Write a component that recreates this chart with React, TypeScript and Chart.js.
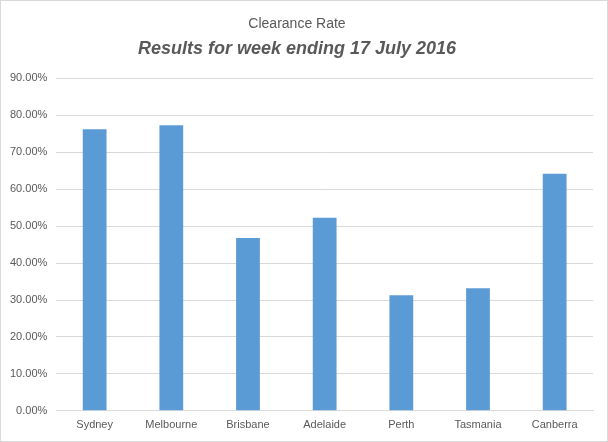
import React, { useEffect, useRef } from "react";
import { Chart, registerables } from "chart.js";

Chart.register(...registerables);

const categories = ["Sydney", "Melbourne", "Brisbane", "Adelaide", "Perth", "Tasmania", "Canberra"];
const clearanceRates = [0.762, 0.773, 0.468, 0.523, 0.313, 0.332, 0.642];
const chartTitle = "Clearance Rate";
const chartSubtitle = "Results for week ending 17 July 2016";

const FONT = "'Liberation Sans', 'DejaVu Sans', sans-serif";

export default function App() {
  const ref = useRef<HTMLCanvasElement | null>(null);
  useEffect(() => {
    document.body.style.margin = "0";
    const ctx = ref.current!;
    const chart = new Chart(ctx, {
      type: "bar",
      data: {
        labels: categories,
        datasets: [
          {
            data: clearanceRates,
            backgroundColor: "#5b9bd5",
            categoryPercentage: 1,
            barPercentage: 0.31,
          },
        ],
      },
      options: {
        animation: false,
        responsive: false,
        maintainAspectRatio: false,
        layout: { padding: { left: 0, right: 14, top: 0, bottom: 1 } },
        plugins: {
          legend: { display: false },
          tooltip: { enabled: false },
          title: {
            display: true,
            text: chartTitle,
            color: "#595959",
            font: { family: FONT, size: 14, weight: "normal" },
            padding: { top: 15, bottom: 0 },
          },
          subtitle: {
            display: true,
            text: chartSubtitle,
            color: "#595959",
            font: { family: FONT, size: 18, weight: "bold", style: "italic" },
            padding: { top: 5, bottom: 19 },
          },
        },
        scales: {
          x: {
            grid: { display: false, drawTicks: false },
            border: { display: true, color: "#d9d9d9" },
            ticks: {
              color: "#595959",
              font: { family: FONT, size: 11 },
              padding: 8,
              maxRotation: 0,
            },
          },
          y: {
            min: 0,
            max: 0.9,
            grid: { color: "#d9d9d9", drawTicks: false },
            border: { display: false },
            ticks: {
              stepSize: 0.1,
              color: "#595959",
              font: { family: FONT, size: 11 },
              padding: 9,
              callback: (v: any) => (Number(v) * 100).toFixed(2) + "%",
            },
          },
        },
      },
    });
    return () => chart.destroy();
  }, []);
  return (
    <div
      style={{
        width: 608,
        height: 442,
        boxSizing: "border-box",
        border: "1px solid #d9d9d9",
        background: "#fff",
      }}
    >
      <canvas ref={ref} width={606} height={440} style={{ display: "block" }} />
    </div>
  );
}
